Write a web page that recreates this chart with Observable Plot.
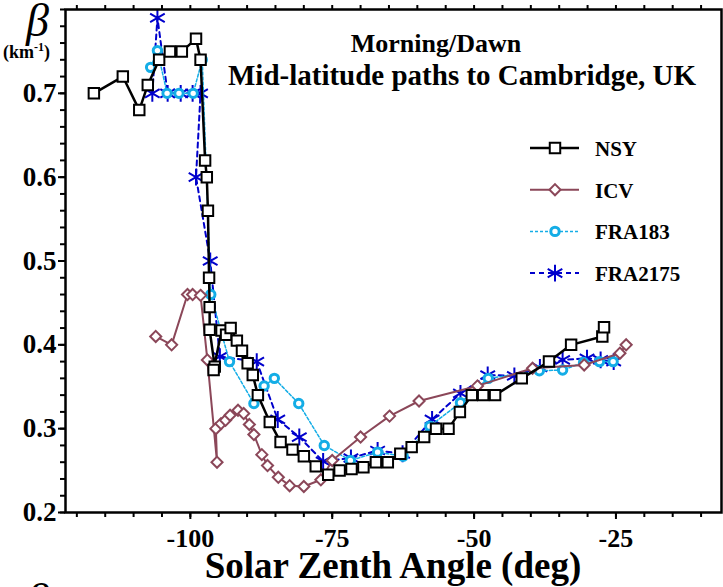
<!DOCTYPE html>
<html><head><meta charset="utf-8">
<script src="https://cdn.jsdelivr.net/npm/d3@7"></script>
<script src="https://cdn.jsdelivr.net/npm/@observablehq/plot@0.6"></script>
<style>
html,body{margin:0;padding:0;background:#fff;overflow:hidden;}
#chart svg{overflow:hidden;display:block;}
</style></head><body><div id="chart"></div>
<script>
// ---- data ----
const nsyAngle = [-117.0,-111.9,-109.0,-107.5,-105.5,-103.6,-101.5,-99.0,-98.2,-97.4,-97.1,-96.9,-96.7,-96.6,-96.6,-95.7,-95.9,-94.5,-93.7,-92.9,-91.8,-90.9,-89.9,-89.0,-88.1,-86.0,-84.1,-82.0,-80.0,-77.9,-75.7,-73.7,-71.6,-69.5,-67.3,-65.2,-63.0,-61.0,-58.8,-56.7,-54.5,-52.5,-50.4,-48.4,-46.3,-41.6,-36.8,-32.9,-27.4,-27.1];
const nsyBeta  = [0.700,0.720,0.680,0.710,0.740,0.750,0.750,0.765,0.740,0.620,0.600,0.560,0.480,0.445,0.418,0.374,0.370,0.417,0.412,0.420,0.405,0.393,0.378,0.364,0.340,0.308,0.284,0.275,0.267,0.255,0.245,0.250,0.252,0.254,0.260,0.260,0.270,0.278,0.290,0.300,0.300,0.320,0.340,0.340,0.340,0.360,0.380,0.400,0.410,0.421];

const icvAngle = [-106.1,-103.3,-100.5,-99.6,-98.2,-97.0,-95.3,-95.5,-94.6,-93.8,-93.0,-91.6,-90.6,-89.6,-88.8,-87.4,-86.4,-84.5,-82.5,-80.0,-77.0,-75.0,-70.0,-64.9,-59.7,-49.4,-39.7,-30.6,-24.3,-23.2];
const icvBeta  = [0.410,0.400,0.460,0.460,0.459,0.382,0.260,0.300,0.306,0.310,0.316,0.322,0.318,0.305,0.293,0.269,0.256,0.242,0.232,0.231,0.239,0.262,0.290,0.315,0.333,0.351,0.372,0.376,0.390,0.400];

const fra183Angle = [-107.0,-105.8,-104.1,-102.0,-99.5,-97.9,-96.4,-93.1,-88.8,-87.0,-85.2,-80.9,-76.4,-71.8,-67.0,-62.5,-57.8,-52.4,-47.5,-38.5,-34.4,-30.7,-27.9,-25.5];
const fra183Beta  = [0.731,0.751,0.700,0.700,0.700,0.740,0.460,0.380,0.330,0.351,0.360,0.330,0.280,0.262,0.272,0.267,0.303,0.331,0.360,0.369,0.370,0.379,0.380,0.380];

const fra2175Angle = [-106.7,-105.8,-104.0,-101.7,-99.6,-98.2,-99.0,-96.5,-94.8,-88.3,-84.6,-80.8,-76.6,-71.7,-67.0,-62.6,-57.4,-52.4,-47.6,-42.9,-38.4,-34.4,-30.1,-27.7,-25.4];
const fra2175Beta  = [0.700,0.790,0.700,0.700,0.700,0.700,0.600,0.500,0.386,0.380,0.311,0.290,0.261,0.265,0.274,0.270,0.311,0.342,0.364,0.363,0.373,0.382,0.384,0.382,0.380];

const xMajorTicks = [-100,-75,-50,-25];
const xMinorTicks = d3.range(-120,-9,5);
const yMajorTicks = [0.2,0.3,0.4,0.5,0.6,0.7];
const yMinorTicks = d3.range(0.2,0.801,0.02).map(v => +v.toFixed(2));

const titleLines = ["Morning/Dawn","Mid-latitude paths to Cambridge, UK"];
const xLabel = "Solar Zenth Angle (deg)";

// ---- styling ----
const serif = "'Liberation Serif','Times New Roman',serif";
const seriesDefs = [
  {name:"FRA2175", x:fra2175Angle, y:fra2175Beta, color:"#0000CC", width:2, dash:"5,4", symbol:"asterisk", r:8, fill:"none", sw:2},
  {name:"FRA183",  x:fra183Angle,  y:fra183Beta,  color:"#14ADE6", width:1.5, dash:"3,2", symbol:"circle", r:4.2, fill:"white", sw:3},
  {name:"ICV",     x:icvAngle,     y:icvBeta,     color:"#8B4759", width:2, dash:null, symbol:"diamond2", r:5, fill:"white", sw:2},
  {name:"NSY",     x:nsyAngle,     y:nsyBeta,     color:"#000000", width:2.5, dash:null, symbol:"square", r:5.9, fill:"white", sw:2}
];
const tables = seriesDefs.map(s => s.x.map((a,i) => ({angle:a, beta:s.y[i]})));

const marks = [
  Plot.axisY(yMinorTicks, {anchor:"left", tickSize:5, strokeWidth:2, tickFormat:() => "", label:null}),
  Plot.axisY(yMajorTicks, {anchor:"left", tickSize:7, strokeWidth:2, tickPadding:2, tickFormat:d3.format(".1f"), fontSize:27, fontWeight:"bold", label:null}),
  Plot.axisX(xMinorTicks, {anchor:"bottom", tickSize:5, strokeWidth:2, tickFormat:() => "", label:null}),
  Plot.axisX(xMajorTicks, {anchor:"bottom", tickSize:7, strokeWidth:2, tickPadding:9, tickFormat:d => String(d), fontSize:26, fontWeight:"bold", label:null}),
  Plot.axisX(xMinorTicks, {anchor:"top", tickSize:5, strokeWidth:2, tickFormat:() => "", label:null}),
];
seriesDefs.forEach((s,k) => {
  marks.push(Plot.line(tables[k], {x:"angle", y:"beta", stroke:s.color, strokeWidth:s.width, strokeDasharray:s.dash ?? undefined}));
  marks.push(Plot.dot(tables[k], {x:"angle", y:"beta", symbol:s.symbol, r:s.r, stroke:s.color, fill:s.fill, strokeWidth:s.sw}));
});
marks.push(Plot.frame({stroke:"black", strokeWidth:2.5}));

const plot = Plot.plot({
  width:723, height:587,
  marginLeft:65, marginRight:2, marginTop:9, marginBottom:75,
  x:{domain:[-122,-6.4]},
  y:{domain:[0.2,0.8]},
  style:{fontFamily:serif, fontWeight:"bold", background:"white", color:"black"},
  marks
});
document.getElementById("chart").appendChild(plot);

// ---- annotations (text) ----
const svg = d3.select(plot);
const ann = svg.append("g").attr("font-family", serif).attr("fill","black").attr("text-anchor","start");
ann.append("text").attr("x",436).attr("y",52).attr("text-anchor","middle").attr("font-size",26).attr("font-weight","bold").text(titleLines[0]);
ann.append("text").attr("x",462).attr("y",85).attr("text-anchor","middle").attr("font-size",29).attr("font-weight","bold").text(titleLines[1]);
ann.append("text").attr("x",393).attr("y",578).attr("text-anchor","middle").attr("font-size",37).attr("font-weight","bold").text(xLabel);
ann.append("text").attr("x",26).attr("y",36).attr("font-size",46).attr("font-style","italic").attr("font-weight","normal").text("β");
const km = ann.append("text").attr("x",3).attr("y",58).attr("font-size",18).attr("font-weight","bold");
km.append("tspan").text("(km");
km.append("tspan").attr("dy",-7).attr("font-size",12).text("-1");
km.append("tspan").attr("dy",7).text(")");
// next panel's label peeking at bottom
ann.append("text").attr("x",26).attr("y",616).attr("font-size",46).attr("font-style","italic").attr("font-weight","normal").text("β");

// ---- legend ----
const legendOrder = ["NSY","ICV","FRA183","FRA2175"];
const leg = svg.append("g").attr("text-anchor","start");
const symMap = {square:d3.symbolSquare, diamond2:d3.symbolDiamond2, circle:d3.symbolCircle, asterisk:d3.symbolAsterisk};
legendOrder.forEach((name,i) => {
  const s = seriesDefs.find(d => d.name === name);
  const y = 148 + i*41.7;
  leg.append("line").attr("x1",530).attr("x2",579).attr("y1",y).attr("y2",y)
    .attr("stroke",s.color).attr("stroke-width",s.width).attr("stroke-dasharray",s.dash);
  leg.append("path").attr("transform",`translate(555,${y})`)
    .attr("d", d3.symbol(symMap[s.symbol], Math.PI*s.r*s.r)())
    .attr("fill",s.fill).attr("stroke",s.color).attr("stroke-width",s.sw);
  leg.append("text").attr("x",595).attr("y",y+8).attr("font-family",serif).attr("font-weight","bold")
    .attr("font-size",21).attr("fill","black").text(name);
});
</script>
</body></html>
